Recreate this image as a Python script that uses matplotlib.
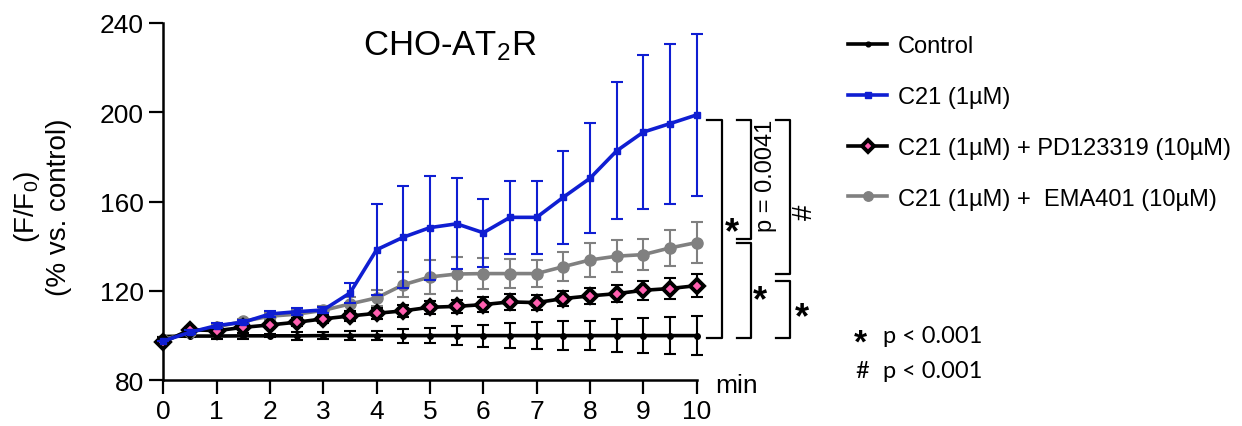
import matplotlib
matplotlib.use("Agg")
import matplotlib.pyplot as plt
from matplotlib.lines import Line2D

plt.rcParams['font.family'] = ['Liberation Sans', 'DejaVu Sans']
plt.rcParams['mathtext.fontset'] = 'custom'
plt.rcParams['mathtext.rm'] = 'Liberation Sans'
plt.rcParams['mathtext.it'] = 'Liberation Sans'
plt.rcParams['mathtext.default'] = 'regular'

# ---------------- data ----------------
time_min = [0, 0.5, 1, 1.5, 2, 2.5, 3, 3.5, 4, 4.5, 5, 5.5, 6, 6.5, 7, 7.5, 8, 8.5, 9, 9.5, 10]

control = [99.5, 99.7, 99.7, 99.8, 99.8, 99.8, 99.9, 99.9, 99.9, 99.9, 99.9,
           99.9, 99.9, 99.9, 99.9, 99.9, 99.9, 99.9, 99.9, 99.9, 99.9]
control_err = [0.0, 0.4, 1.2, 1.2, 0.6, 1.7, 1.4, 2.0, 2.1, 3.1, 3.5,
               4.4, 4.9, 5.5, 6.0, 6.4, 6.6, 7.4, 7.7, 8.2, 8.7]

c21 = [97.5, 101.4, 104.4, 105.9, 109.6, 110.6, 111.4, 119.0, 138.4, 144.0, 148.3,
       150.0, 146.0, 152.9, 152.9, 161.9, 170.4, 182.7, 191.1, 194.9, 198.8]
c21_err = [0.0, 0.8, 1.0, 1.0, 1.5, 1.5, 1.5, 4.3, 20.4, 22.8, 23.3,
           20.4, 15.3, 16.5, 16.3, 20.8, 24.7, 30.7, 34.5, 35.9, 36.2]

c21_pd = [96.9, 102.6, 102.1, 103.6, 104.7, 105.9, 107.4, 108.7, 109.9, 111.0, 112.6,
          113.0, 113.8, 115.0, 114.7, 116.5, 117.7, 118.7, 120.2, 121.0, 122.3]
c21_pd_err = [0.0, 1.0, 1.0, 1.2, 1.5, 1.8, 2.0, 2.2, 2.5, 2.8, 3.0,
              2.9, 3.2, 3.4, 3.5, 3.4, 3.6, 3.7, 4.2, 4.5, 5.2]

c21_ema = [98.0, 101.5, 103.8, 106.3, 108.6, 109.5, 111.2, 114.1, 116.8, 122.7, 126.2,
           127.5, 127.7, 127.7, 127.7, 130.8, 133.8, 135.5, 136.2, 139.2, 141.6]
c21_ema_err = [0.0, 0.8, 1.0, 1.2, 1.5, 2.0, 2.0, 3.0, 3.5, 5.6, 7.6,
               7.5, 7.1, 6.4, 6.2, 6.6, 7.8, 7.1, 7.0, 8.1, 9.2]

labels = ["Control", "C21 (1\u00b5M)", "C21 (1\u00b5M) + PD123319 (10\u00b5M)",
          "C21 (1\u00b5M) +  EMA401 (10\u00b5M)"]
x_ticks = [0, 1, 2, 3, 4, 5, 6, 7, 8, 9, 10]
y_ticks = [80, 120, 160, 200, 240]

BLUE = '#0f1ed2'
GRAY = '#808080'
PINK = '#ff5fb0'

# ---------------- figure ----------------
fig = plt.figure(figsize=(12.42, 4.27), dpi=100)
ax = fig.add_axes([0.1315, 0.1077, 0.4294, 0.8361])

series = [
    (control, control_err, dict(color='black', marker='o', ms=4, mfc='black', mec='black'), 'black', 2),
    (c21_ema, c21_ema_err, dict(color=GRAY, marker='o', ms=8, mfc=GRAY, mec=GRAY), GRAY, 3),
    (c21_pd, c21_pd_err, dict(color='black', marker='D', ms=7, mfc=PINK, mec='black', mew=2.8), 'black', 4),
    (c21, c21_err, dict(color=BLUE, marker='s', ms=5, mfc=BLUE, mec=BLUE), BLUE, 5),
]
handles = {}
for vals, errs, style, ecol, z in series:
    ax.errorbar(time_min, vals, yerr=errs, fmt='none', ecolor=ecol, elinewidth=1.5,
                capsize=4, capthick=1.5, zorder=z, clip_on=False)
    ln, = ax.plot(time_min, vals, lw=2.6, zorder=z + 0.5, clip_on=False, **style)
    handles[id(vals)] = ln

ax.set_xlim(0, 10)
ax.set_ylim(80, 240)
ax.set_xticks(x_ticks)
ax.set_yticks(y_ticks)
for s in ['top', 'right']:
    ax.spines[s].set_visible(False)
for s in ['left', 'bottom']:
    ax.spines[s].set_linewidth(1.8)
ax.tick_params(direction='out', length=10, width=1.6, labelsize=19, pad=4)

# "min" unit label
ax.text(10.35, 77.8, "min", fontsize=19, ha='left', va='center', clip_on=False)

# title
fig.text(0.362, 0.893, "CHO-AT$_2$R", fontsize=25, ha='center', va='center')

# y label
fig.text(0.0335, 0.515, "(F/F$_0$)\n(% vs. control)", rotation=90, fontsize=20,
         ha='center', va='center', multialignment='center', linespacing=1.2)

# legend
leg_lines = [handles[id(control)], handles[id(c21)], handles[id(c21_pd)], handles[id(c21_ema)]]
proxy = []
for ln in leg_lines:
    proxy.append(Line2D([], [], color=ln.get_color(), lw=2.6, marker=ln.get_marker(),
                        ms=ln.get_markersize() * 0.85, mfc=ln.get_markerfacecolor(),
                        mec=ln.get_markeredgecolor(), mew=ln.get_markeredgewidth()))
fig.legend(proxy, labels, loc='upper left', bbox_to_anchor=(0.683, 0.915), frameon=False,
           fontsize=17, handlelength=1.65, handletextpad=0.45, labelspacing=1.22,
           borderpad=0, borderaxespad=0)

# significance brackets (data coords, outside the axes)
def bracket(x0, x1, ytop, ybot):
    ax.plot([x0, x1, x1, x0], [ytop, ytop, ybot, ybot], color='black', lw=1.6,
            clip_on=False, solid_joinstyle='round')

bracket(10.19, 10.47, 196.7, 98.8)
bracket(10.75, 11.02, 196.7, 143.2)
bracket(10.75, 11.02, 141.4, 98.8)
bracket(11.49, 11.75, 196.7, 127.5)
bracket(11.49, 11.75, 124.5, 98.8)

star_kw = dict(fontsize=26, fontweight='bold', ha='center', va='center', clip_on=False)
ax.text(10.66, 146.0, "*", **star_kw)
ax.text(11.19, 115.5, "*", **star_kw)
ax.text(11.97, 107.8, "*", **star_kw)
ax.text(11.30, 171.9, "p = 0.0041", rotation=90, fontsize=17, ha='center', va='center', clip_on=False)
ax.text(12.03, 155.8, "#", rotation=90, fontsize=20, ha='center', va='center', clip_on=False)

# p-value key
fig.text(0.693, 0.195, "*", fontsize=24, fontweight='bold', ha='center', va='center')
fig.text(0.711, 0.212, "p < 0.001", fontsize=17, ha='left', va='center', family=['Lato', 'DejaVu Sans'])
fig.text(0.694, 0.130, "#", fontsize=17, ha='center', va='center', family=['Lato', 'DejaVu Sans'])
fig.text(0.711, 0.130, "p < 0.001", fontsize=17, ha='left', va='center', family=['Lato', 'DejaVu Sans'])

fig.savefig("out.png", dpi=100)
